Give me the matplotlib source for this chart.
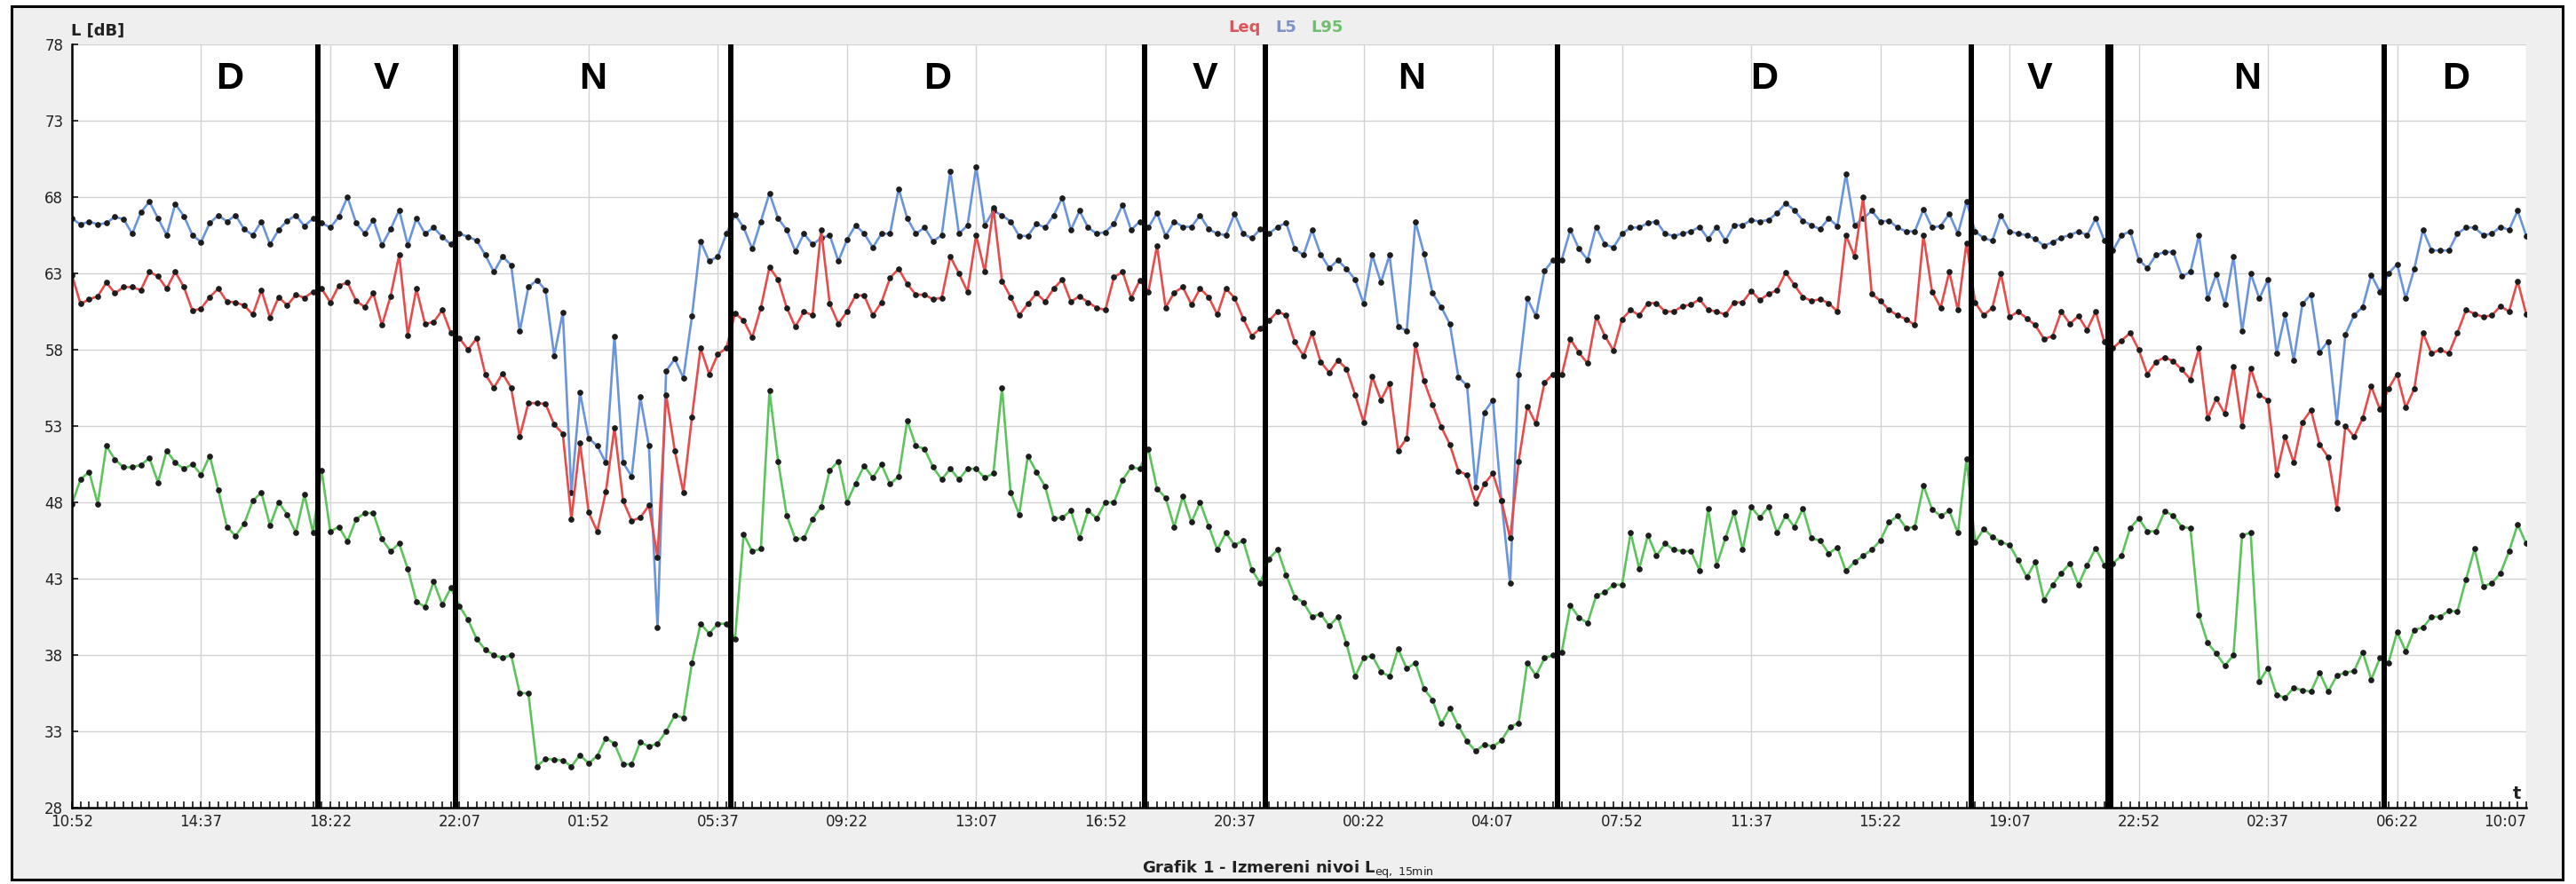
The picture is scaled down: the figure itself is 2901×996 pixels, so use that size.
"""
Measured noise levels Leq / L5 / L95, 15 min intervals over three days.
"""

import matplotlib

matplotlib.use("Agg")
import matplotlib.dates as mdates
import matplotlib.pyplot as plt
import pandas as pd
from matplotlib.offsetbox import AnchoredOffsetbox, HPacker, TextArea
from matplotlib.patches import Rectangle

# ---- data (dB, one value per 15 min, starting 10:52) ----
start_time = "2021-05-10 10:52"

l5 = [
    66.6, 66.2, 66.4, 66.2, 66.3, 66.7, 66.55, 65.6, 67.0, 67.7,
    66.6, 65.5, 67.55, 66.75, 65.5, 65.05, 66.3, 66.8, 66.4, 66.8,
    65.9, 65.5, 66.4, 64.9, 65.85, 66.45, 66.8, 66.1, 66.6, 66.3,
    66.0, 66.7, 68.0, 66.3, 65.6, 66.5, 64.85, 65.9, 67.15, 64.85,
    66.6, 65.6, 66.0, 65.4, 64.9, 65.6, 65.4, 65.15, 64.2, 63.1,
    64.1, 63.55, 59.2, 62.1, 62.55, 61.9, 57.6, 60.45, 48.65, 55.2,
    52.2, 51.7, 50.6, 58.9, 50.6, 49.7, 54.9, 51.7, 39.8, 56.6,
    57.4, 56.15, 60.2, 65.1, 63.8, 64.1, 65.6, 66.85, 66.0, 64.6,
    66.4, 68.25, 66.6, 65.85, 64.45, 65.6, 64.9, 65.3, 65.5, 63.8,
    65.2, 66.15, 65.6, 64.7, 65.6, 65.6, 68.55, 66.6, 65.6, 66.0,
    65.1, 65.5, 69.7, 65.6, 66.15, 70.0, 66.15, 67.1, 66.8, 66.4,
    65.45, 65.45, 66.25, 66.0, 66.8, 67.95, 65.85, 67.1, 66.0, 65.6,
    65.7, 66.25, 67.5, 65.85, 66.4, 66.0, 66.95, 65.45, 66.4, 66.05,
    66.05, 66.8, 65.9, 65.6, 65.5, 66.9, 65.6, 65.3, 65.9, 65.6,
    66.05, 66.3, 64.6, 64.2, 65.85, 64.25, 63.35, 63.85, 63.3, 62.6,
    61.0, 64.2, 62.4, 64.2, 59.5, 59.25, 66.4, 64.3, 61.7, 60.8,
    59.7, 56.2, 55.65, 49.0, 53.9, 54.7, 48.1, 42.7, 56.4, 61.35,
    60.2, 63.15, 63.9, 63.9, 65.85, 64.6, 63.9, 66.05, 64.9, 64.7,
    65.6, 66.0, 66.0, 66.3, 66.4, 65.6, 65.45, 65.6, 65.75, 66.05,
    65.25, 66.05, 65.15, 66.15, 66.15, 66.5, 66.4, 66.5, 66.95, 67.6,
    67.15, 66.45, 66.15, 65.9, 66.6, 66.1, 69.5, 66.15, 66.6, 67.1,
    66.4, 66.45, 66.0, 65.75, 65.75, 67.2, 66.0, 66.1, 66.9, 65.6,
    67.7, 65.75, 65.3, 65.15, 66.8, 65.75, 65.6, 65.5, 65.25, 64.8,
    65.05, 65.35, 65.5, 65.75, 65.5, 66.6, 65.15, 64.5, 65.5, 65.75,
    63.9, 63.35, 64.2, 64.4, 64.4, 62.8, 63.1, 65.5, 61.35, 62.95,
    60.95, 64.1, 59.2, 63.0, 61.35, 62.6, 57.75, 60.3, 57.3, 61.0,
    61.6, 57.85, 58.55, 53.25, 59.0, 60.25, 60.8, 62.9, 61.8, 63.0,
    63.6, 61.35, 63.3, 65.85, 64.5, 64.5, 64.5, 65.6, 66.0, 66.0,
    65.5, 65.6, 66.05, 65.85, 67.1, 65.45,
]

leq = [
    62.9, 61.0, 61.3, 61.5, 62.4, 61.7, 62.1, 62.1, 61.9, 63.1,
    62.8, 62.0, 63.1, 62.1, 60.55, 60.7, 61.45, 62.0, 61.15, 61.1,
    60.9, 60.3, 61.9, 60.1, 61.45, 60.9, 61.6, 61.4, 61.8, 62.0,
    61.1, 62.2, 62.4, 61.2, 60.8, 61.7, 59.6, 61.5, 64.2, 58.95,
    62.0, 59.7, 59.8, 60.6, 59.1, 58.75, 58.0, 58.75, 56.4, 55.5,
    56.45, 55.5, 52.3, 54.5, 54.5, 54.45, 53.1, 52.5, 46.9, 51.9,
    47.35, 46.1, 48.7, 52.9, 48.1, 46.8, 47.0, 47.8, 44.4, 55.05,
    51.4, 48.65, 53.6, 58.1, 56.4, 57.7, 58.1, 60.4, 59.9, 58.8,
    60.75, 63.4, 62.6, 60.75, 59.5, 60.5, 60.25, 65.85, 61.0, 59.7,
    60.5, 61.55, 61.55, 60.25, 61.1, 62.7, 63.3, 62.3, 61.6, 61.6,
    61.3, 61.4, 64.1, 63.0, 61.8, 65.5, 63.1, 67.3, 62.5, 61.45,
    60.25, 61.0, 61.7, 61.15, 62.0, 62.6, 61.15, 61.5, 61.1, 60.75,
    60.6, 62.75, 63.1, 61.4, 62.55, 61.8, 64.8, 60.75, 61.75, 62.1,
    60.95, 62.0, 61.45, 60.3, 62.0, 61.4, 60.05, 58.9, 59.4, 59.9,
    60.5, 60.25, 58.5, 57.6, 59.1, 57.2, 56.5, 57.3, 56.75, 55.05,
    53.25, 56.25, 54.7, 55.8, 51.4, 52.2, 58.35, 55.95, 54.4, 52.95,
    51.8, 50.05, 49.8, 47.95, 49.2, 49.9, 48.1, 45.65, 50.7, 54.3,
    53.15, 55.85, 56.4, 56.35, 58.7, 57.8, 57.1, 60.15, 58.9, 57.95,
    60.0, 60.6, 60.25, 61.05, 61.05, 60.5, 60.5, 60.85, 60.95, 61.3,
    60.6, 60.5, 60.3, 61.1, 61.1, 61.85, 61.25, 61.65, 61.9, 63.05,
    62.25, 61.45, 61.2, 61.3, 61.05, 60.5, 65.5, 64.1, 68.0, 61.65,
    61.2, 60.6, 60.25, 60.0, 59.6, 65.5, 61.8, 60.75, 63.1, 60.6,
    65.0, 61.1, 60.25, 60.75, 63.0, 60.15, 60.5, 60.05, 59.6, 58.7,
    58.9, 60.5, 59.7, 60.2, 59.3, 60.5, 58.5, 58.1, 58.6, 59.1,
    58.0, 56.4, 57.2, 57.5, 57.25, 56.7, 56.05, 58.1, 53.5, 54.8,
    53.8, 56.9, 53.0, 56.8, 55.05, 54.7, 49.8, 52.3, 50.6, 53.25,
    54.05, 51.8, 50.95, 47.6, 53.0, 52.3, 53.5, 55.6, 54.1, 55.45,
    56.4, 54.2, 55.45, 59.1, 57.75, 58.0, 57.75, 59.1, 60.6, 60.35,
    60.15, 60.25, 60.85, 60.5, 62.5, 60.3,
]

l95 = [
    47.9, 49.5, 50.0, 47.9, 51.7, 50.8, 50.3, 50.3, 50.45, 50.9,
    49.3, 51.4, 50.6, 50.2, 50.5, 49.8, 51.05, 48.8, 46.4, 45.8,
    46.6, 48.1, 48.65, 46.5, 48.0, 47.2, 46.0, 48.5, 46.0, 50.1,
    46.1, 46.4, 45.45, 46.9, 47.3, 47.3, 45.6, 44.8, 45.3, 43.65,
    41.5, 41.15, 42.8, 41.3, 42.4, 41.2, 40.3, 39.05, 38.35, 38.0,
    37.8, 38.0, 35.5, 35.5, 30.7, 31.2, 31.15, 31.1, 30.7, 31.45,
    30.9, 31.4, 32.55, 32.2, 30.85, 30.85, 32.3, 32.0, 32.2, 33.0,
    34.05, 33.9, 37.5, 40.05, 39.4, 40.05, 40.05, 39.05, 45.9, 44.8,
    44.95, 55.3, 50.7, 47.15, 45.6, 45.65, 46.9, 47.7, 50.1, 50.7,
    48.0, 49.25, 50.4, 49.6, 50.5, 49.2, 49.7, 53.35, 51.7, 51.5,
    50.3, 49.5, 50.2, 49.5, 50.2, 50.2, 49.6, 49.9, 55.5, 48.65,
    47.2, 51.05, 50.0, 49.05, 46.95, 47.0, 47.45, 45.65, 47.45, 46.95,
    48.0, 48.0, 49.45, 50.3, 50.2, 51.5, 48.9, 48.3, 46.4, 48.4,
    46.7, 48.0, 46.45, 44.9, 46.0, 45.2, 45.5, 43.6, 42.7, 44.3,
    44.9, 43.25, 41.8, 41.45, 40.5, 40.7, 39.9, 40.5, 38.75, 36.6,
    37.8, 37.95, 36.9, 36.6, 38.4, 37.1, 37.5, 35.8, 35.05, 33.5,
    34.5, 33.35, 32.35, 31.7, 32.15, 32.0, 32.4, 33.3, 33.55, 37.5,
    36.65, 37.8, 38.0, 38.2, 41.25, 40.45, 40.1, 41.9, 42.1, 42.6,
    42.6, 46.0, 43.65, 45.85, 44.5, 45.3, 44.9, 44.8, 44.8, 43.55,
    47.6, 43.9, 45.65, 47.35, 44.9, 47.7, 47.0, 47.7, 46.0, 47.15,
    46.4, 47.6, 45.65, 45.5, 44.65, 45.05, 43.5, 44.1, 44.5, 44.9,
    45.5, 46.7, 47.1, 46.3, 46.4, 49.1, 47.55, 47.1, 47.45, 46.0,
    50.85, 45.4, 46.25, 45.75, 45.4, 45.2, 44.2, 43.1, 44.1, 41.6,
    42.6, 43.35, 44.0, 42.6, 43.9, 45.0, 43.9, 44.0, 44.5, 46.3,
    46.95, 46.1, 46.1, 47.4, 47.15, 46.4, 46.3, 40.6, 38.8, 38.1,
    37.3, 38.0, 45.85, 46.0, 36.25, 37.15, 35.4, 35.2, 35.85, 35.7,
    35.6, 36.85, 35.6, 36.65, 36.85, 36.95, 38.2, 36.4, 37.8, 37.5,
    39.5, 38.25, 39.65, 39.8, 40.5, 40.5, 40.9, 40.85, 42.95, 44.95,
    42.5, 42.7, 43.35, 44.8, 46.55, 45.3,
]

# period boundaries (day offset, clock time) and period names
boundaries = [
    (0, "18:00"), (0, "22:00"), (1, "06:00"),
    (1, "18:00"), (1, "21:30"), (2, "06:00"),
    (2, "18:00"), (2, "22:00"), (3, "06:00"),
]
periods = ["D", "V", "N", "D", "V", "N", "D", "V", "N", "D"]

y_ticks = [28, 33, 38, 43, 48, 53, 58, 63, 68, 73, 78]

# ---- figure ----
W, H = 2901, 996
fig = plt.figure(figsize=(W / 100, H / 100), dpi=100, facecolor="white")

# grey panel with black frame
fig.patches.append(Rectangle((13 / W, 5 / H), (2886 - 13) / W, (989 - 5) / H,
                             transform=fig.transFigure, facecolor="#efefef",
                             edgecolor="black", linewidth=2.2, zorder=-10))

ax = fig.add_axes([81 / W, 86 / H, (2845 - 81) / W, (910 - 50) / H])
ax.set_facecolor("white")
ax.set_zorder(1)

times = pd.date_range(start_time, periods=len(leq), freq="15min")
x = mdates.date2num(times.to_pydatetime())

day0 = pd.Timestamp(start_time).normalize()
bx = [mdates.date2num((day0 + pd.Timedelta(days=d) + pd.Timedelta(t + ":00")).to_pydatetime())
      for d, t in boundaries]

ax.plot(x, l5, color="#6a94dc", lw=1.9, marker="o", ms=3.8,
        mfc="#1c1c1c", mec="#1c1c1c", zorder=3)
ax.plot(x, leq, color="#e64c4c", lw=1.9, marker="o", ms=3.8,
        mfc="#1c1c1c", mec="#1c1c1c", zorder=3)
ax.plot(x, l95, color="#5ec35e", lw=1.9, marker="o", ms=3.8,
        mfc="#1c1c1c", mec="#1c1c1c", zorder=3)

for i, b in enumerate(bx):
    ax.axvline(b, color="black", lw=6.5 if i == 7 else 4.3, zorder=5)

# period letters
edges = [x[0]] + bx + [x[-1]]
for i, name in enumerate(periods):
    xm = (edges[i] + edges[i + 1]) / 2
    if i == 0:
        xm += 1 / 24
    ax.text(xm, 75.1, name, ha="center", va="baseline", fontsize=31,
            fontweight="bold", family="Liberation Sans", zorder=6)

ax.set_xlim(x[0], x[-1])
ax.set_ylim(28, 78)
ax.set_yticks(y_ticks)
ax.set_xticks(x[::15])
ax.set_xticks(x, minor=True)
ax.xaxis.set_major_formatter(mdates.DateFormatter("%H:%M"))

ax.grid(True, which="major", color="#d2d2d2", lw=1.0)
ax.set_axisbelow(True)
for s in ["top", "right"]:
    ax.spines[s].set_visible(False)
for s in ["left", "bottom"]:
    ax.spines[s].set_linewidth(1.8)
    ax.spines[s].set_zorder(7)

ax.tick_params(axis="x", which="both", direction="in", length=5, width=1.1,
               pad=5, labelsize=12, labelcolor="#222222")
ax.tick_params(axis="y", direction="in", length=5, width=1.1, pad=7,
               labelsize=12, labelcolor="#222222")

# axis captions
fig.text(80 / W, 1 - 40 / H, "L [dB]", ha="left", va="baseline",
         fontsize=13, fontweight="bold", color="#222222")
fig.text(2834 / W, 1 - 894 / H, "t", ha="center", va="center",
         fontsize=14, fontweight="bold", color="#222222", zorder=5)

# legend at the top
items = [("Leq", "#d9575c"), ("L5", "#7b93c9"), ("L95", "#6fbf6f")]
box = HPacker(children=[TextArea(t, textprops=dict(color=c, fontsize=13, fontweight="bold"))
                        for t, c in items], align="baseline", pad=0, sep=12)
leg = AnchoredOffsetbox(loc="center", child=box, pad=0, borderpad=0, frameon=False,
                        bbox_to_anchor=(1448 / W, 1 - 31 / H),
                        bbox_transform=fig.transFigure)
fig.add_artist(leg)

fig.text(0.5, 1 - 980 / H, r"Grafik 1 - Izmereni nivoi L$_{\rm eq,\ 15min}$",
         ha="center", va="center", fontsize=13, fontweight="bold", color="#222222")

# the last time label sits inside the axis end
fig.canvas.draw()
ax.xaxis.get_major_ticks()[-1].label1.set_horizontalalignment("right")

fig.savefig("out.png", dpi=100, facecolor="white")
